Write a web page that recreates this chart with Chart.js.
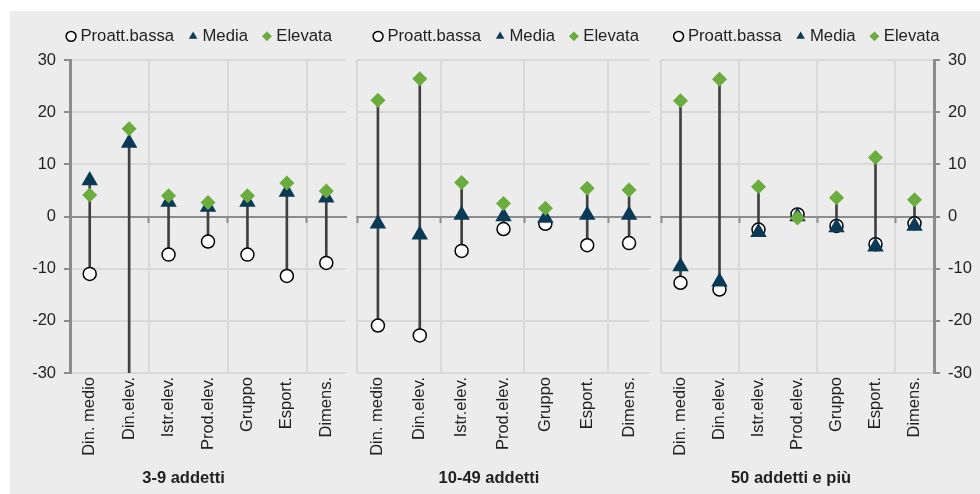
<!DOCTYPE html>
<html>
<head>
<meta charset="utf-8">
<script src="https://cdn.jsdelivr.net/npm/chart.js@4.4.1/dist/chart.umd.min.js"></script>
<style>
  html, body { margin: 0; padding: 0; background: #fff; }
  #wrap { position: relative; width: 980px; height: 494px; overflow: hidden; }
  #bg { position: absolute; left: 10px; top: 11px; width: 970px; height: 483px; background: #ececec; }
  canvas { position: absolute; left: 0; top: 0; }
</style>
</head>
<body>
<div id="wrap">
  <div id="bg"></div>
  <canvas id="p1" width="980" height="494"></canvas>
  <canvas id="p2" width="980" height="494"></canvas>
  <canvas id="p3" width="980" height="494"></canvas>
</div>
<script>
// categorie e titoli dei pannelli
const categories = ['Din. medio', 'Din.elev.', 'Istr.elev.', 'Prod.elev.', 'Gruppo', 'Esport.', 'Dimens.'];
const seriesNames = ['Proatt.bassa', 'Media', 'Elevata'];
const panelTitles = ['3-9 addetti', '10-49 addetti', '50 addetti e più'];
const yMin = -30, yMax = 30, yStep = 10;

// 3-9 addetti
const bassa3 = [-11.0, -33.0, -7.3, -4.8, -7.3, -11.4, -8.9];
const media3 = [6.9, 14.1, 2.8, 1.8, 2.8, 4.7, 3.6];
const elevata3 = [4.1, 16.8, 4.0, 2.7, 4.0, 6.4, 4.9];

// 10-49 addetti
const bassa10 = [-20.9, -22.8, -6.6, -2.4, -1.4, -5.5, -5.1];
const media10 = [-1.4, -3.5, 0.3, 0.0, -0.3, 0.3, 0.3];
const elevata10 = [22.3, 26.4, 6.5, 2.5, 1.6, 5.4, 5.1];

// 50 addetti e più
const bassa50 = [-12.7, -14.0, -2.5, 0.4, -1.8, -5.3, -1.3];
const media50 = [-9.6, -12.5, -3.0, 0.0, -2.1, -5.8, -1.8];
const elevata50 = [22.2, 26.3, 5.7, -0.3, 3.6, 11.3, 3.2];

const FONT = "'Liberation Sans', Arial, sans-serif";
const TEXT = '#222222';
const AXIS = '#8c8c8c';
const GRID = '#d9d9d9';
const NAVY = '#0b3a56';
const GREEN = '#6aad3e';
const NONE = 'rgba(0,0,0,0)';

Chart.defaults.font.family = FONT;
Chart.defaults.font.size = 16.5;
Chart.defaults.color = TEXT;

// legenda su una riga sola e di altezza fissa, cosi l'area del grafico parte sempre alla stessa quota
const legendHeight = {
  id: 'legendHeight',
  beforeInit(chart) {
    const fit = chart.legend.fit;
    chart.legend.fit = function () {
      const mw = this.maxWidth;
      this.maxWidth = mw + 120;
      fit.call(this);
      this.maxWidth = mw;
      this.width = mw;
      this.height = 50;
    };
  }
};

// sposta legenda e titolo sul centro voluto, indipendente dall'area del grafico
const placeBoxes = {
  id: 'placeBoxes',
  afterLayout(chart, args, opts) {
    const lg = chart.legend;
    lg.left = opts.legendX - 170;
    lg.right = opts.legendX + 170;
    lg.width = 340;
    const tb = chart.titleBlock;
    tb.left = opts.titleX - 120;
    tb.right = opts.titleX + 120;
    tb.width = 240;
  }
};

function makePanel(id, title, bassa, media, elevata, lay) {
  const ranges = categories.map((_, i) => {
    const v = [bassa[i], media[i], elevata[i]];
    return [Math.min(...v), Math.max(...v)];
  });

  const yScale = {
    min: yMin, max: yMax,
    position: lay.yPos,
    afterFit(s) { s.width = lay.yWidth; },
    ticks: { stepSize: yStep, display: lay.yLabels, padding: 8, color: TEXT },
    grid: {
      lineWidth: 2,
      color: c => (c.tick && c.tick.value === 0) ? AXIS : GRID,
      drawTicks: lay.yLabels,
      tickLength: 6,
      tickColor: AXIS,
      tickWidth: 2
    },
    border: { display: lay.yLabels, color: AXIS, width: 3 }
  };

  new Chart(document.getElementById(id), {
    type: 'bar',
    data: {
      labels: categories,
      datasets: [
        {
          type: 'line', label: seriesNames[0], data: bassa, showLine: false,
          pointStyle: 'circle', pointRadius: 6.5, pointBorderWidth: 1.5,
          pointBackgroundColor: '#ffffff', pointBorderColor: '#000000',
          backgroundColor: '#ffffff', borderColor: '#000000', borderWidth: 1.5,
          xAxisID: 'x', yAxisID: 'y', order: 3
        },
        {
          type: 'line', label: seriesNames[1], data: media, showLine: false,
          pointStyle: 'triangle', pointRadius: 9.5, pointBorderWidth: 0,
          pointBackgroundColor: NAVY, pointBorderColor: NAVY,
          backgroundColor: NAVY, borderColor: NAVY, borderWidth: 0,
          xAxisID: 'x', yAxisID: 'y', order: 2
        },
        {
          type: 'line', label: seriesNames[2], data: elevata, showLine: false,
          pointStyle: 'rectRot', pointRadius: 7.5, pointBorderWidth: 0,
          pointBackgroundColor: GREEN, pointBorderColor: GREEN,
          backgroundColor: GREEN, borderColor: GREEN, borderWidth: 0,
          xAxisID: 'x', yAxisID: 'y', order: 1
        },
        {
          type: 'bar', label: 'range', data: ranges,
          backgroundColor: '#404040', barThickness: 2,
          xAxisID: 'x', yAxisID: 'y', order: 4
        }
      ]
    },
    options: {
      responsive: false,
      animation: false,
      events: [],
      layout: { padding: { left: lay.pl, right: lay.pr, top: 10, bottom: 0 } },
      plugins: {
        tooltip: { enabled: false },
        placeBoxes: { legendX: lay.legendX, titleX: lay.titleX },
        legend: {
          position: 'top',
          fullSize: false,
          labels: {
            usePointStyle: true,
            boxWidth: 2,
            boxHeight: 7,
            padding: 18,
            color: TEXT,
            font: { size: 16.7 },
            filter: item => item.datasetIndex < 3,
            sort: (a, b) => a.datasetIndex - b.datasetIndex
          }
        },
        title: {
          display: true,
          text: title,
          position: 'bottom',
          fullSize: false,
          color: TEXT,
          font: { size: 16.5, weight: 'bold' },
          padding: { top: 0, bottom: 6 }
        }
      },
      scales: {
        x: {
          type: 'category',
          offset: true,
          afterFit(s) { s.height = 95.2; },
          grid: {
            offset: true,
            drawTicks: false,
            lineWidth: 2,
            color: c => c.index % 2 === 0 ? GRID : NONE
          },
          border: { display: false },
          ticks: { minRotation: 90, maxRotation: 90, autoSkip: false, padding: 4, color: TEXT }
        },
        x0: {
          type: 'category',
          position: { y: 0 },
          offset: true,
          grid: {
            offset: true,
            drawOnChartArea: false,
            tickLength: 5,
            tickWidth: 2,
            tickColor: c => c.index % 2 === 0 ? AXIS : NONE
          },
          border: { color: AXIS, width: 2 },
          ticks: { display: false }
        },
        y: yScale
      }
    },
    plugins: [legendHeight, placeBoxes]
  });
}

makePanel('p1', panelTitles[0], bassa3, media3, elevata3,
  { pl: 10, pr: 634, yPos: 'left', yWidth: 60, yLabels: true, legendX: 201, titleX: 183.5 });
makePanel('p2', panelTitles[1], bassa10, media10, elevata10,
  { pl: 357, pr: 330, yPos: 'left', yWidth: 0, yLabels: false, legendX: 508, titleX: 489 });
makePanel('p3', panelTitles[2], bassa50, media50, elevata50,
  { pl: 661, pr: 0, yPos: 'right', yWidth: 46, yLabels: true, legendX: 808.5, titleX: 791 });
</script>
</body>
</html>
